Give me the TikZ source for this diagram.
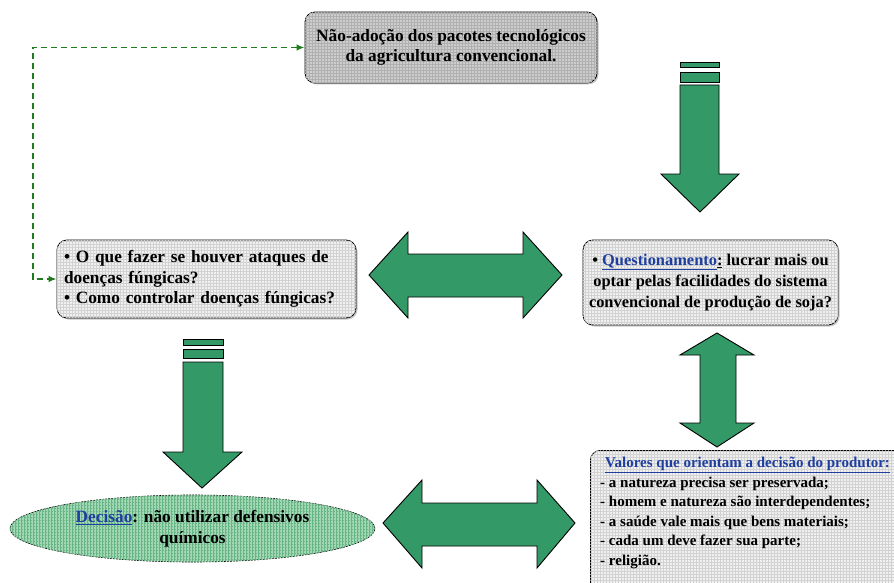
\documentclass[tikz,border=0pt]{standalone}
\usepackage{fontspec}
\setmainfont{Liberation Serif}
\usepackage{tikz}
\usetikzlibrary{arrows.meta,positioning,calc,shapes.geometric,patterns,shadows}
\definecolor{verde}{HTML}{339966}
\definecolor{verdetr}{HTML}{1E7B1E}
\definecolor{verdecl}{HTML}{A3D6B4}
\definecolor{gradev}{HTML}{66B584}
\definecolor{cinza}{HTML}{CDCDCD}
\definecolor{cinzacl}{HTML}{F0F0F0}
\definecolor{grade}{HTML}{D2D2D2}
\definecolor{gradeesc}{HTML}{B0B0B0}
\definecolor{azul}{HTML}{1F3F9F}
\tikzset{
  txt/.style={font=\fontsize{17.3}{20.5}\selectfont\bfseries},
  caixa/.style={txt,draw=black,fill=cinzacl,rounded corners=10pt,line width=0.8pt,inner sep=6pt,
    postaction={pattern=grid,pattern color=grade},
    drop shadow={shadow xshift=1.5pt,shadow yshift=-1.5pt,fill=black!45}},
  topo/.style={caixa,fill=cinza,postaction={pattern=grid,pattern color=gradeesc}},
  elip/.style={txt,ellipse,draw=black,dash pattern=on 2pt off 1pt,line width=0.6pt,fill=verdecl,
    postaction={pattern=grid,pattern color=gradev},align=center,inner sep=0pt},
  seta/.style={fill=verde,draw=black,line width=0.9pt,line join=miter},
  tracejado/.style={{Latex[length=8pt,width=6.5pt]}-{Latex[length=8pt,width=6.5pt]},draw=verdetr,line width=1.7pt,dash pattern=on 6pt off 4pt},
}
\newcommand{\marca}[1]{\textcolor{azul}{\underline{#1}}}
\begin{document}
\begin{tikzpicture}[x=1pt,y=-1pt]
\useasboundingbox (0,0) rectangle (894,583);
\begin{scope}
\clip (0,0) rectangle (894,583);
% caixas
\node[topo, minimum width=292pt, minimum height=71pt, align=center] (naoadocao) at (451,47.5)
  {N\~ao-ado\c{c}\~ao dos pacotes tecnol\'ogicos\\da agricultura convencional.};
\node[caixa, minimum width=299pt, minimum height=78pt, text width=285pt, align=left] (duvidas) at (206.5,279)
  {\textbullet{} O que fazer se houver ataques de\\doen\c{c}as f\'ungicas?\\\textbullet{} Como controlar doen\c{c}as f\'ungicas?};
\node[caixa, minimum width=255pt, minimum height=85pt, align=center, font=\fontsize{16.4}{21}\selectfont\bfseries] (quest) at (710.5,282.5)
  {\textbullet{} \marca{Questionamento}\underline{:} lucrar mais ou\\optar pelas facilidades do sistema\\convencional de produ\c{c}\~ao de soja?};
\node[caixa, anchor=north west, minimum width=340pt, minimum height=180pt] (valores) at (590,450) {};
\node[anchor=north west, align=left, inner sep=0pt, font=\fontsize{15}{19.5}\selectfont\bfseries] (valtxt) at (600,457)
  {\hspace*{5pt}\marca{Valores que orientam a decis\~ao do produtor:}\\
   - a natureza precisa ser preservada;\\
   - homem e natureza s\~ao interdependentes;\\
   - a sa\'ude vale mais que bens materiais;\\
   - cada um deve fazer sua parte;\\
   - religi\~ao.};
\node[elip, minimum width=365pt, minimum height=67pt] (decisao) at (192.5,528.5)
  {\marca{Decis\~ao}: n\~ao utilizar defensivos\\qu\'imicos};
% ligacao tracejada
\coordinate (volta) at (33,160);
\draw[tracejado] (naoadocao.west) -| (volta) |- (duvidas.west);
% setas largas
\draw[seta] (680,62) rectangle (719,67);
\draw[seta] (680,72) rectangle (719,82);
\draw[seta] (680,85) -- (719,85) -- (719,174) -- (739,174) -- (700,212) -- (661,174) -- (680,174) -- cycle;
\draw[seta] (183,339) rectangle (223,345);
\draw[seta] (183,349) rectangle (223,358);
\draw[seta] (183,362) -- (223,362) -- (223,452) -- (242,452) -- (202,488) -- (163,452) -- (183,452) -- cycle;
\draw[seta] (369,275) -- (408,232) -- (408,254) -- (523,254) -- (523,232) -- (562,275) -- (523,318) -- (523,297) -- (408,297) -- (408,318) -- cycle;
\draw[seta] (383,523) -- (422,480) -- (422,503) -- (537,503) -- (537,480) -- (575,523) -- (537,568) -- (537,546) -- (422,546) -- (422,568) -- cycle;
\draw[seta] (717,333) -- (754,355) -- (736,355) -- (736,423) -- (754,423) -- (717,447) -- (680,423) -- (700,423) -- (700,355) -- (680,355) -- cycle;
\end{scope}
\end{tikzpicture}
\end{document}
